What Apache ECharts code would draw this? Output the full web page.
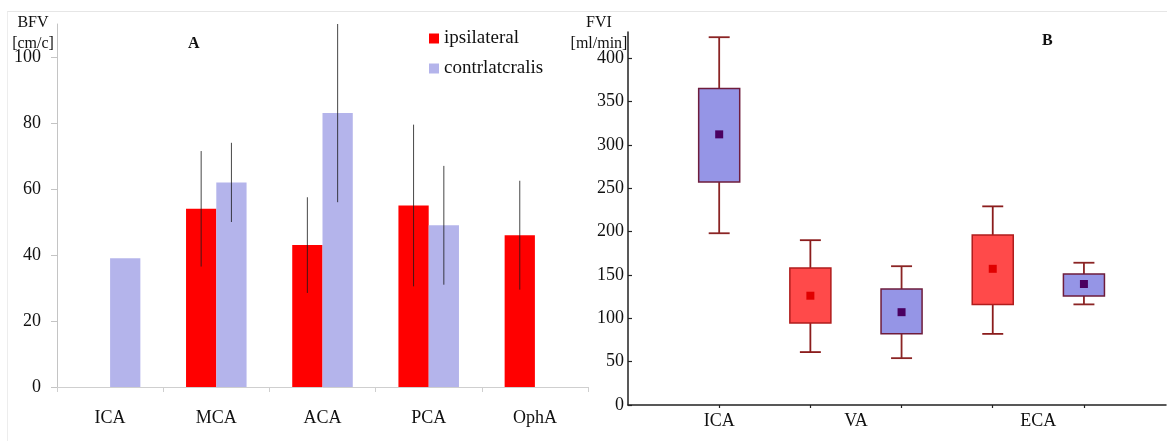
<!DOCTYPE html>
<html><head><meta charset="utf-8">
<script src="https://cdn.jsdelivr.net/npm/echarts@6/dist/echarts.min.js"></script>
<style>html,body{margin:0;padding:0;background:#fff}#c{width:1167px;height:441px}</style>
</head><body><div id="c"></div>
<script>
// ---- Panel A data ----
const vesselsA = ['ICA', 'MCA', 'ACA', 'PCA', 'OphA'];
const ipsiMean = [null, 54, 43, 55, 46];
const ipsiSD = [null, 17.5, 14.5, 24.5, 16.5];
const contraMean = [39, 62, 83, 49, null];
const contraSD = [null, 12, 27, 18, null];
const ticksA = [0, 20, 40, 60, 80, 100];
const seriesNames = ['ipsilateral', 'contrlatcralis'];

// ---- Panel B data ----
const boxPos = [0, 1, 2, 3, 4];
const boxSide = ['contra', 'ipsi', 'contra', 'ipsi', 'contra'];
const boxMin = [198, 61, 54, 82, 116];
const boxQ1 = [257, 94.5, 82, 116, 125.6];
const boxMean = [312, 126, 107, 157, 139.5];
const boxQ3 = [365, 158, 133.7, 196, 151];
const boxMax = [424, 190, 160, 229, 164];
const groupsB = ['ICA', 'VA', 'ECA'];
const groupPosB = [0, 1.5, 3.5];
const ticksB = [0, 50, 100, 150, 200, 250, 300, 350, 400];

const FF = '"Liberation Serif", "Times New Roman", serif';
const CAT_GAP = 0.43;

function errRender(sign) {
  return function (params, api) {
    const i = api.value(0), m = api.value(1), s = api.value(2);
    const band = api.size([1, 0])[0];
    const barW = band * (1 - CAT_GAP) / 2;
    const off = sign * barW / 2;
    const t = api.coord([i, m + s]);
    const b = api.coord([i, m - s]);
    return {
      type: 'line',
      shape: { x1: t[0] + off, y1: t[1], x2: b[0] + off, y2: b[1] },
      style: { stroke: 'rgba(25,25,25,0.8)', lineWidth: 1 }
    };
  };
}

function errData(mean, sd) {
  const out = [];
  for (let i = 0; i < mean.length; i++) {
    if (mean[i] != null && sd[i] != null) out.push([i, mean[i], sd[i]]);
  }
  return out;
}

function boxRender(fill, border, whisk, meanCol) {
  return function (params, api) {
    const x = api.value(0);
    const pLo = api.coord([x, api.value(1)]);
    const pQ1 = api.coord([x, api.value(2)]);
    const pMn = api.coord([x, api.value(3)]);
    const pQ3 = api.coord([x, api.value(4)]);
    const pHi = api.coord([x, api.value(5)]);
    const bw = api.size([0.45, 0])[0];
    const cw = api.size([0.23, 0])[0];
    const cx = pLo[0];
    const ws = { stroke: whisk, lineWidth: 1.8 };
    return {
      type: 'group',
      children: [
        { type: 'line', shape: { x1: cx, y1: pHi[1], x2: cx, y2: pQ3[1] }, style: ws },
        { type: 'line', shape: { x1: cx, y1: pQ1[1], x2: cx, y2: pLo[1] }, style: ws },
        { type: 'line', shape: { x1: cx - cw / 2, y1: pHi[1], x2: cx + cw / 2, y2: pHi[1] }, style: ws },
        { type: 'line', shape: { x1: cx - cw / 2, y1: pLo[1], x2: cx + cw / 2, y2: pLo[1] }, style: ws },
        { type: 'rect', shape: { x: cx - bw / 2, y: pQ3[1], width: bw, height: pQ1[1] - pQ3[1] },
          style: { fill: fill, stroke: border, lineWidth: 1.5 } },
        { type: 'rect', shape: { x: cx - 4, y: pMn[1] - 4, width: 8, height: 8 }, style: { fill: meanCol } }
      ]
    };
  };
}

function boxData(side) {
  const out = [];
  for (let i = 0; i < boxPos.length; i++) {
    if (boxSide[i] === side) out.push([boxPos[i], boxMin[i], boxQ1[i], boxMean[i], boxQ3[i], boxMax[i]]);
  }
  return out;
}

const chart = echarts.init(document.getElementById('c'), null, { renderer: 'canvas' });
chart.setOption({
  backgroundColor: '#fff',
  animation: false,
  textStyle: { fontFamily: FF },
  graphic: [
    { type: 'line', shape: { x1: 7, y1: 11.5, x2: 1167, y2: 11.5 }, style: { stroke: '#e6e6e6', lineWidth: 1 }, silent: true },
    { type: 'line', shape: { x1: 7.5, y1: 11.5, x2: 7.5, y2: 441 }, style: { stroke: '#ededed', lineWidth: 1 }, silent: true }
  ],
  title: [
    { text: 'A', left: 188, top: 36, padding: 0, textStyle: { fontFamily: FF, fontWeight: 'bold', fontSize: 16, color: '#111' } },
    { text: 'B', left: 1042, top: 33, padding: 0, textStyle: { fontFamily: FF, fontWeight: 'bold', fontSize: 16, color: '#111' } }
  ],
  legend: {
    data: seriesNames,
    orient: 'vertical', left: 429, top: 29, padding: 0,
    itemWidth: 10, itemHeight: 10, itemGap: 11, icon: 'rect',
    textStyle: { fontFamily: FF, fontSize: 19, color: '#111' }
  },
  grid: [
    { left: 57, top: 24, width: 531, height: 363 },
    { left: 628, top: 32, width: 538, height: 373 }
  ],
  xAxis: [
    {
      gridIndex: 0, type: 'category', data: vesselsA, boundaryGap: true,
      axisLine: { lineStyle: { color: '#cfcfcf', width: 1 } },
      axisTick: { show: true, length: 5, lineStyle: { color: '#cfcfcf' } },
      axisLabel: { fontFamily: FF, fontSize: 18, color: '#111', margin: 22 }
    },
    {
      gridIndex: 1, type: 'value', min: -1, max: 4.9,
      splitLine: { show: false },
      axisLine: { onZero: false, lineStyle: { color: '#222', width: 1.5 } },
      axisTick: { show: true, length: 3, customValues: boxPos, lineStyle: { color: '#222', width: 1.2 } },
      axisLabel: {
        customValues: groupPosB, fontFamily: FF, fontSize: 18, color: '#111', margin: 7,
        formatter: function (v) { const k = groupPosB.indexOf(v); return k >= 0 ? groupsB[k] : ''; }
      }
    }
  ],
  yAxis: [
    {
      gridIndex: 0, type: 'value', min: 0, max: 110,
      name: 'BFV\n[cm/c]', nameLocation: 'end', nameGap: -30, nameMoveOverlap: false,
      nameTextStyle: { fontFamily: FF, fontSize: 16, color: '#111', lineHeight: 21, align: 'center', verticalAlign: 'bottom', padding: [0, 48, 0, 0] },
      splitLine: { show: false },
      axisLine: { show: true, onZero: false, lineStyle: { color: '#c4c4c4', width: 1 } },
      axisTick: { show: true, length: 6, customValues: ticksA, lineStyle: { color: '#c4c4c4' } },
      axisLabel: { customValues: ticksA, fontFamily: FF, fontSize: 18, color: '#111', margin: 16 }
    },
    {
      gridIndex: 1, type: 'value', min: 0, max: 430,
      name: 'FVI\n[ml/min]', nameLocation: 'end', nameGap: -22, nameMoveOverlap: false,
      nameTextStyle: { fontFamily: FF, fontSize: 16, color: '#111', lineHeight: 21, align: 'center', verticalAlign: 'bottom', padding: [0, 58, 0, 0] },
      splitLine: { show: false },
      axisLine: { show: true, onZero: false, lineStyle: { color: '#222', width: 1.5 } },
      axisTick: { show: true, inside: true, length: 4, customValues: ticksB, lineStyle: { color: '#222', width: 1.2 } },
      axisLabel: { customValues: ticksB, fontFamily: FF, fontSize: 18, color: '#111', margin: 4 }
    }
  ],
  series: [
    {
      name: seriesNames[0], type: 'bar', xAxisIndex: 0, yAxisIndex: 0,
      data: ipsiMean, barGap: '0%', barCategoryGap: '43%',
      itemStyle: { color: '#ff0000' }
    },
    {
      name: seriesNames[1], type: 'bar', xAxisIndex: 0, yAxisIndex: 0,
      data: contraMean, barGap: '0%', barCategoryGap: '43%',
      itemStyle: { color: '#b4b4eb' }
    },
    {
      type: 'custom', xAxisIndex: 0, yAxisIndex: 0, clip: false, silent: true, z: 5,
      renderItem: errRender(-1), data: errData(ipsiMean, ipsiSD)
    },
    {
      type: 'custom', xAxisIndex: 0, yAxisIndex: 0, clip: false, silent: true, z: 5,
      renderItem: errRender(1), data: errData(contraMean, contraSD)
    },
    {
      type: 'custom', xAxisIndex: 1, yAxisIndex: 1, clip: false, silent: true,
      encode: { x: 0, y: [1, 2, 3, 4, 5] },
      renderItem: boxRender('#ff4a4a', '#b01c1c', '#8b1c1c', '#e00000'),
      data: boxData('ipsi')
    },
    {
      type: 'custom', xAxisIndex: 1, yAxisIndex: 1, clip: false, silent: true,
      encode: { x: 0, y: [1, 2, 3, 4, 5] },
      renderItem: boxRender('#9595e6', '#6e1c3c', '#8b2424', '#4a0060'),
      data: boxData('contra')
    }
  ]
});
</script>
</body></html>
